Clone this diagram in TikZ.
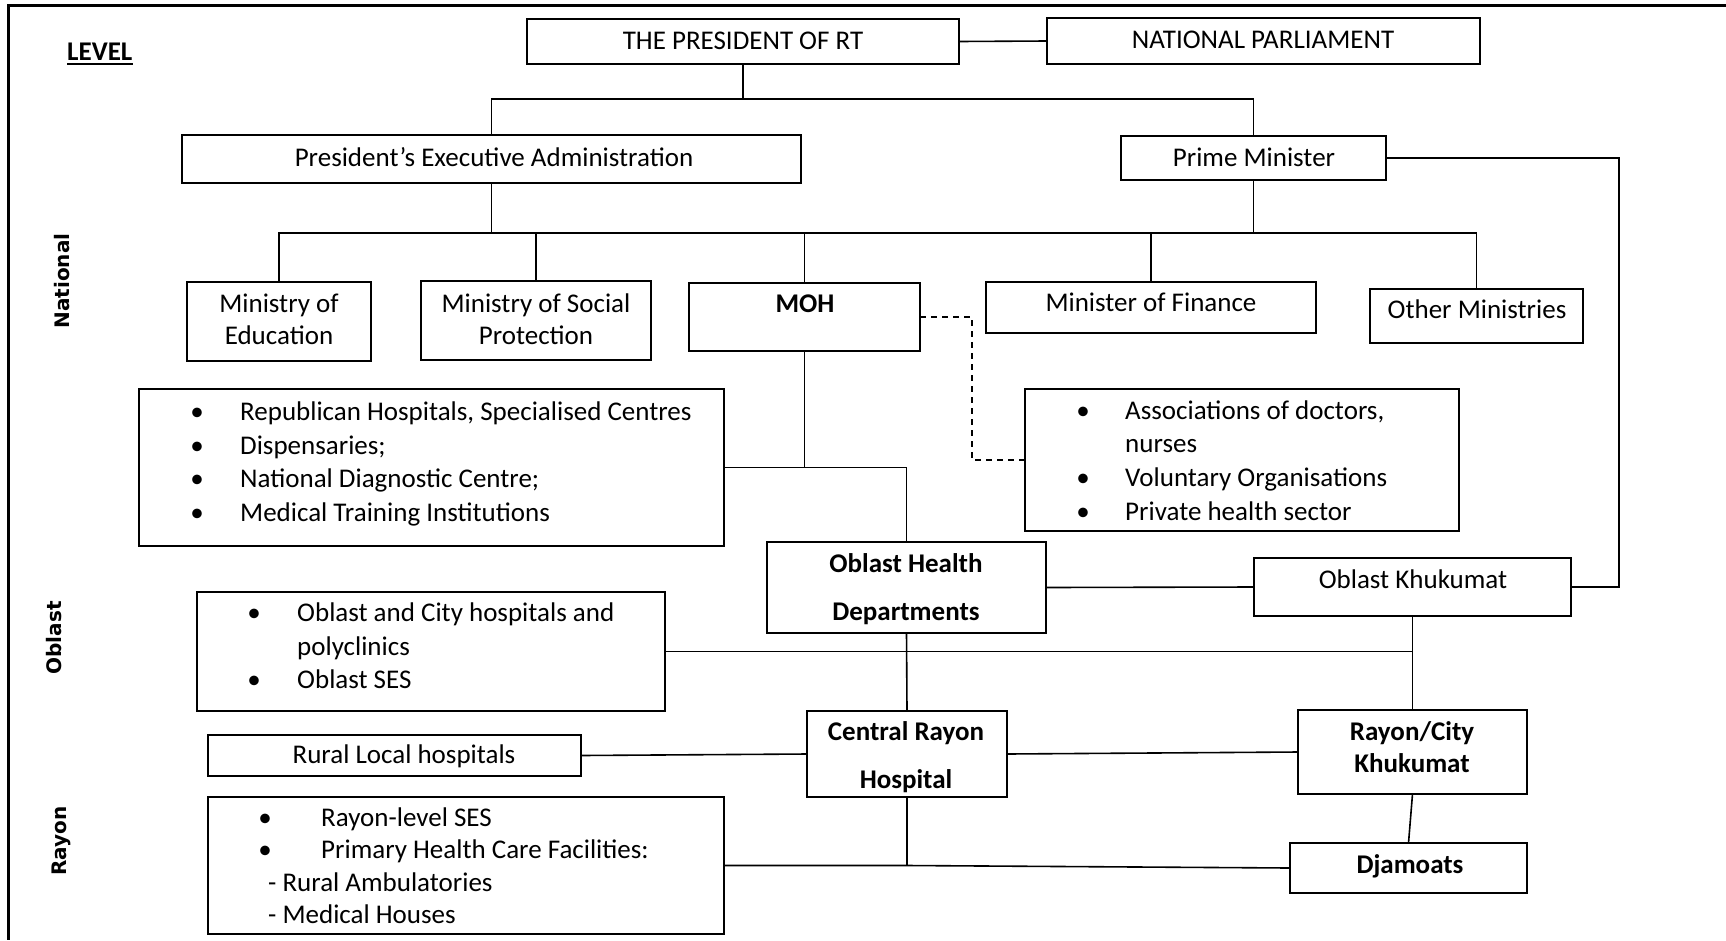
\documentclass[tikz,border=0pt]{standalone}
\usepackage{fontspec}
\setmainfont{Carlito}
\newfontfamily\sidefont{DejaVu Sans}
\usetikzlibrary{calc}

\tikzset{
  orgbox/.style={draw, line width=2pt, inner sep=0pt, outer sep=0pt, rectangle},
  link/.style={line width=1.6pt},
  dashlink/.style={line width=1.6pt, dash pattern=on 6pt off 5pt},
  txt/.style={inner sep=0pt, anchor=base, font=\fontsize{27}{33}\selectfont},
  txtl/.style={txt, anchor=base west},
  btxt/.style={txt, font=\fontsize{27}{33}\selectfont\bfseries},
  side/.style={inner sep=0pt, anchor=base, rotate=90,
    font=\sidefont\bfseries\fontsize{20}{24}\selectfont},
}

% \placebox{name}{x1}{y1}{x2}{y2}: empty framed box spanning the given corners
\newcommand\placebox[5]{%
  \node[orgbox, minimum width={#4-#2}, minimum height={#5-#3}]
    (#1) at ({(#2+#4)/2},{(#3+#5)/2}) {};}

\begin{document}
\begin{tikzpicture}[x=1pt, y=-1pt]
\useasboundingbox (0,0) rectangle (1726,940);

% page frame (top and left rules)
\draw[line width=2.7pt] (1726,5.3) -- (8.7,5.3) -- (8.7,940);

% level captions
\node[txtl, font=\fontsize{27}{33}\selectfont\bfseries] (lvl) at (67,60) {LEVEL};
\draw[line width=2.6pt] ([yshift=-3.8pt]lvl.base west) -- ([yshift=-3.8pt]lvl.base east);
\node[side] (lvnat) at (69,281) {National};
\node[side] (lvobl) at (61,638) {Oblast};
\node[side] (lvray) at (66,841) {Rayon};

% boxes
\placebox{pres}{527}{19}{959}{64}
\placebox{np}{1047}{18}{1480}{64}
\placebox{pea}{182}{135}{801}{183}
\placebox{pm}{1121}{136}{1386}{180}
\placebox{moe}{187}{282}{371}{361}
\placebox{msp}{421}{281}{651}{360}
\placebox{moh}{689}{283}{920}{351}
\placebox{mof}{986}{282}{1316}{333}
\placebox{om}{1370}{289}{1583}{343}
\placebox{natl}{139}{389}{724}{546}
\placebox{assoc}{1025}{389}{1459}{531}
\placebox{ohd}{767}{542}{1046}{633}
\placebox{ok}{1254}{558}{1571}{616}
\placebox{obl}{197}{592}{665}{711}
\placebox{rlh}{208}{735}{581}{776}
\placebox{crh}{807}{711}{1007}{797}
\placebox{rck}{1298}{710}{1527}{794}
\placebox{ray}{208}{797}{724}{934}
\placebox{dja}{1290}{843}{1527}{893}

% box texts
\node[txt] (presT) at (743,49) {THE PRESIDENT OF RT};
\node[txt] (npT) at (1263,48) {NATIONAL PARLIAMENT};
\node[txt] (peaT) at (494,166) {President’s Executive Administration};
\node[txt] (pmT) at (1254,166) {Prime Minister};
\node[txt] (moeA) at (279,312) {Ministry of};
\node[txt] (moeB) at (279,344) {Education};
\node[txt] (mspA) at (536,312) {Ministry of Social};
\node[txt] (mspB) at (536,344) {Protection};
\node[btxt] (mohT) at (805,312) {MOH};
\node[txt] (mofT) at (1151,311) {Minister of Finance};
\node[txt] (omT) at (1477,318) {Other Ministries};

\node[txt] (natlB1) at (197,420) {•};
\node[txtl] (natlT1) at (240,420) {Republican Hospitals, Specialised Centres};
\node[txt] (natlB2) at (197,454) {•};
\node[txtl] (natlT2) at (240,454) {Dispensaries;};
\node[txt] (natlB3) at (197,487) {•};
\node[txtl] (natlT3) at (240,487) {National Diagnostic Centre;};
\node[txt] (natlB4) at (197,521) {•};
\node[txtl] (natlT4) at (240,521) {Medical Training Institutions};

\node[txt] (assocB1) at (1083,419) {•};
\node[txtl] (assocT1) at (1125,419) {Associations of doctors,};
\node[txtl] (assocT2) at (1125,452) {nurses};
\node[txt] (assocB3) at (1083,486) {•};
\node[txtl] (assocT3) at (1125,486) {Voluntary Organisations};
\node[txt] (assocB4) at (1083,520) {•};
\node[txtl] (assocT4) at (1125,520) {Private health sector};

\node[btxt] (ohdA) at (906,572) {Oblast Health};
\node[btxt] (ohdB) at (906,620) {Departments};
\node[txt] (okT) at (1413,588) {Oblast Khukumat};

\node[txt] (oblB1) at (254,621) {•};
\node[txtl] (oblT1) at (297,621) {Oblast and City hospitals and};
\node[txtl] (oblT2) at (297,655) {polyclinics};
\node[txt] (oblB3) at (254,688) {•};
\node[txtl] (oblT3) at (297,688) {Oblast SES};

\node[txt] (rlhT) at (404,763) {Rural Local hospitals};
\node[btxt] (crhA) at (906,740) {Central Rayon};
\node[btxt] (crhB) at (906,788) {Hospital};
\node[btxt] (rckA) at (1412,740) {Rayon/City};
\node[btxt] (rckB) at (1412,772) {Khukumat};
\node[btxt] (djaT) at (1410,873) {Djamoats};

\node[txt] (rayB1) at (265,826) {•};
\node[txtl] (rayT1) at (321,826) {Rayon-level SES};
\node[txt] (rayB2) at (265,858) {•};
\node[txtl] (rayT2) at (321,858) {Primary Health Care Facilities:};
\node[txtl] (rayT3) at (268,891) {- Rural Ambulatories};
\node[txtl] (rayT4) at (268,923) {- Medical Houses};

% junction coordinates of the trees
\coordinate (busA) at (743,99);
\coordinate (busB) at (0,233);
\coordinate (dashX) at (972,0);
\coordinate (rightX) at (1619,0);

% connectors
\draw[link] (pres.east) -- (np.west);
\draw[link] (pres.south) -- (busA);
\draw[link] (pea.north) |- (busA) -| (pm.north);

\draw[link] (pea.south) -- (pea.south |- busB);
\draw[link] (pm.south) -- (pm.south |- busB);
\draw[link] (moe.north) |- (om.north |- busB) -- (om.north);
\draw[link] (msp.north) -- (msp.north |- busB);
\draw[link] (moh.north) -- (moh.north |- busB);
\draw[link] (mof.north) -- (mof.north |- busB);

\draw[link] (moh.south) -- (moh.south |- natl.east);
\draw[link] (natl.east) -| (ohd.north);
\draw[dashlink] (moh.east) -| (dashX |- assoc.west) -- (assoc.west);

\draw[link] (pm.east) -| (rightX |- ok.east) -- (ok.east);
\draw[link] (ohd.east) -- (ok.west);
\draw[link] (obl.east) -- (obl.east -| ok.south);
\draw[link] (ok.south) -- (rck.north);
\draw[link] (ohd.south) -- (crh.north);

\draw[link] (rlh.east) -- (crh.west);
\draw[link] (crh.east) -- (rck.west);
\draw[link] (crh.south) -- (crh.south |- ray.east);
\draw[link] (ray.east) -- (crh.south |- ray.east) -- (dja.west);
\draw[link] (rck.south) -- (dja.north);
\end{tikzpicture}
\end{document}
